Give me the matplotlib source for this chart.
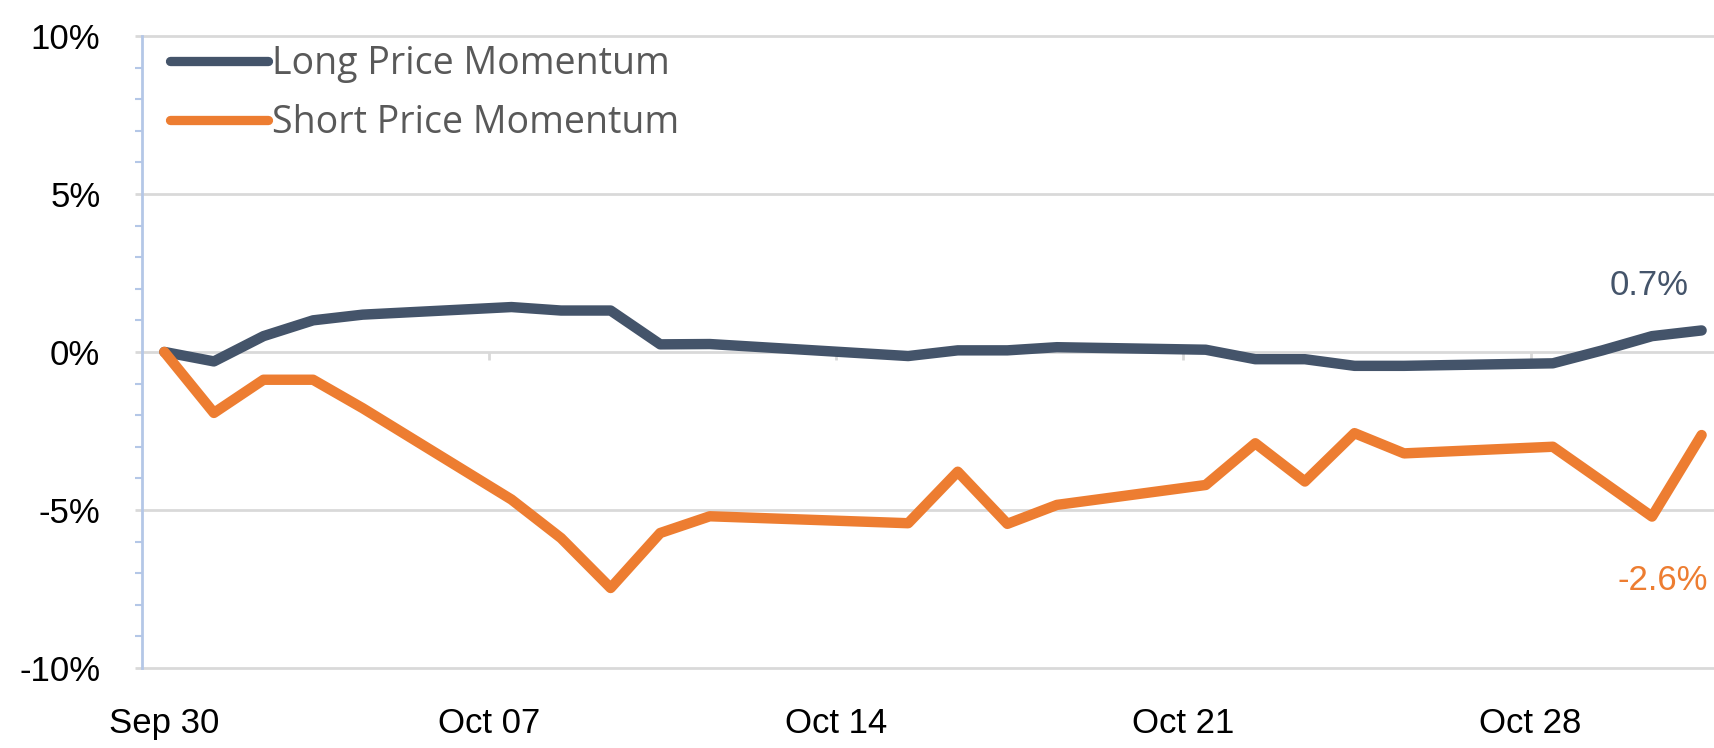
import matplotlib
matplotlib.use("Agg")
import matplotlib.pyplot as plt
import matplotlib.dates as mdates
from matplotlib import font_manager
from matplotlib.font_manager import FontProperties
from matplotlib.ticker import MultipleLocator, FuncFormatter
import numpy as np

# trading days shown in the chart
dates = ["2019-09-30", "2019-10-01", "2019-10-02", "2019-10-03", "2019-10-04",
         "2019-10-07", "2019-10-08", "2019-10-09", "2019-10-10", "2019-10-11",
         "2019-10-15", "2019-10-16", "2019-10-17", "2019-10-18",
         "2019-10-21", "2019-10-22", "2019-10-23", "2019-10-24", "2019-10-25",
         "2019-10-28", "2019-10-29", "2019-10-30", "2019-10-31"]

long_mom = [0.0, -0.3, 0.5, 1.0, 1.18,
            1.42, 1.31, 1.31, 0.24, 0.25,
            -0.13, 0.05, 0.05, 0.15,
            0.07, -0.23, -0.23, -0.44, -0.44,
            -0.36, 0.05, 0.5, 0.68]

short_mom = [0.0, -1.93, -0.88, -0.88, -1.78,
             -4.67, -5.89, -7.47, -5.73, -5.2,
             -5.42, -3.79, -5.44, -4.84,
             -4.21, -2.89, -4.10, -2.57, -3.21,
             -3.0, -4.1, -5.21, -2.63]

week_starts = ["2019-10-07", "2019-10-14", "2019-10-21", "2019-10-28"]
tick_labels = ["Sep 30", "Oct 07", "Oct 14", "Oct 21", "Oct 28"]
y_ticks = [-10, -5, 0, 5, 10]

LONG_COL = "#44546a"
SHORT_COL = "#ed7d31"
GRID_COL = "#d9d9d9"
AXIS_COL = "#b4c7e7"


def find_path(fp):
    try:
        return font_manager.findfont(fp, fallback_to_default=False)
    except Exception:
        return ""


def pick_font(names):
    for n in names:
        if find_path(FontProperties(family=n)):
            return n
    return "DejaVu Sans"


# axis labels: Arial Narrow look if a narrow face exists
axis_fp = None
for fp in [FontProperties(family="Liberation Sans Narrow"),
           FontProperties(family="Liberation Sans", stretch="condensed")]:
    p = find_path(fp)
    if "Narrow" in p or "Condensed" in p:
        axis_fp = fp
        axis_fp.set_size(28)
        break
if axis_fp is None:
    axis_fp = FontProperties(family=pick_font(["Liberation Sans", "DejaVu Sans"]), size=25)

legend_font = pick_font(["Open Sans", "Noto Sans", "DejaVu Sans"])
note_font = pick_font(["Liberation Sans", "DejaVu Sans"])

x = mdates.date2num(np.array(dates, dtype="datetime64[D]"))
# Excel date axis: ticks on day boundaries, points sit inside the day
day_off = 0.45
week_x = mdates.date2num(np.array(week_starts, dtype="datetime64[D]")) - day_off

fig = plt.figure(figsize=(17.15, 7.48), dpi=100)
ax = fig.add_axes([0.0828, 0.107, 0.9172, 0.845])

l1, = ax.plot(x, long_mom, color=LONG_COL, lw=7.5, solid_capstyle="round",
              solid_joinstyle="round", zorder=3, clip_on=False,
              label="Long Price Momentum")
l2, = ax.plot(x, short_mom, color=SHORT_COL, lw=7.5, solid_capstyle="round",
              solid_joinstyle="round", zorder=3, clip_on=False,
              label="Short Price Momentum")

ax.set_xlim(x[0] - day_off, x[0] + 31.27)
ax.set_ylim(-10, 10)

# y axis
ax.set_yticks(y_ticks)
ax.yaxis.set_minor_locator(MultipleLocator(1))
ax.yaxis.set_major_formatter(FuncFormatter(lambda v, p: f"{v:.0f}%"))
ax.yaxis.grid(True, color=GRID_COL, lw=2)
for gl in ax.get_ygridlines():
    gl.set_clip_on(False)
ax.set_axisbelow(True)
ax.tick_params(axis="y", which="major", direction="out", length=5, width=2,
               color=GRID_COL, pad=25)
ax.tick_params(axis="y", which="minor", direction="out", length=5, width=1.5,
               color=AXIS_COL)

for s in ["top", "right", "bottom"]:
    ax.spines[s].set_visible(False)
ax.spines["left"].set_color(AXIS_COL)
ax.spines["left"].set_linewidth(2)

# x axis labels at the bottom, tick marks on the 0% line
ax.set_xticks(np.concatenate([[x[0]], week_x]))
ax.set_xticklabels(tick_labels)
ax.tick_params(axis="x", length=0, pad=28)
ax.vlines(week_x, -0.25, 0, color=GRID_COL, lw=2, zorder=2)

for lab in ax.get_xticklabels() + ax.get_yticklabels():
    lab.set_fontproperties(axis_fp)

leg = ax.legend(handles=[l1, l2], loc="upper left",
                bbox_to_anchor=(28 / 1573, 0.985), frameon=False,
                borderpad=0, borderaxespad=0, handlelength=2.6,
                handletextpad=0.12, labelspacing=0.55,
                prop={"family": legend_font, "size": 27})
for t in leg.get_texts():
    t.set_color("#595959")
for ln in leg.get_lines():
    ln.set_linewidth(6.7)
    ln.set_solid_capstyle("round")

ax.annotate(f"{long_mom[-1]:.1f}%", xy=(x[-1], long_mom[-1]),
            xytext=(-52, 45), textcoords="offset pixels",
            ha="center", va="center", color=LONG_COL,
            fontsize=25, fontfamily=note_font)
ax.annotate(f"{short_mom[-1]:.1f}%", xy=(x[-1], short_mom[-1]),
            xytext=(-39, -145), textcoords="offset pixels",
            ha="center", va="center", color=SHORT_COL,
            fontsize=25, fontfamily=note_font)

fig.savefig("out.png", dpi=100)
